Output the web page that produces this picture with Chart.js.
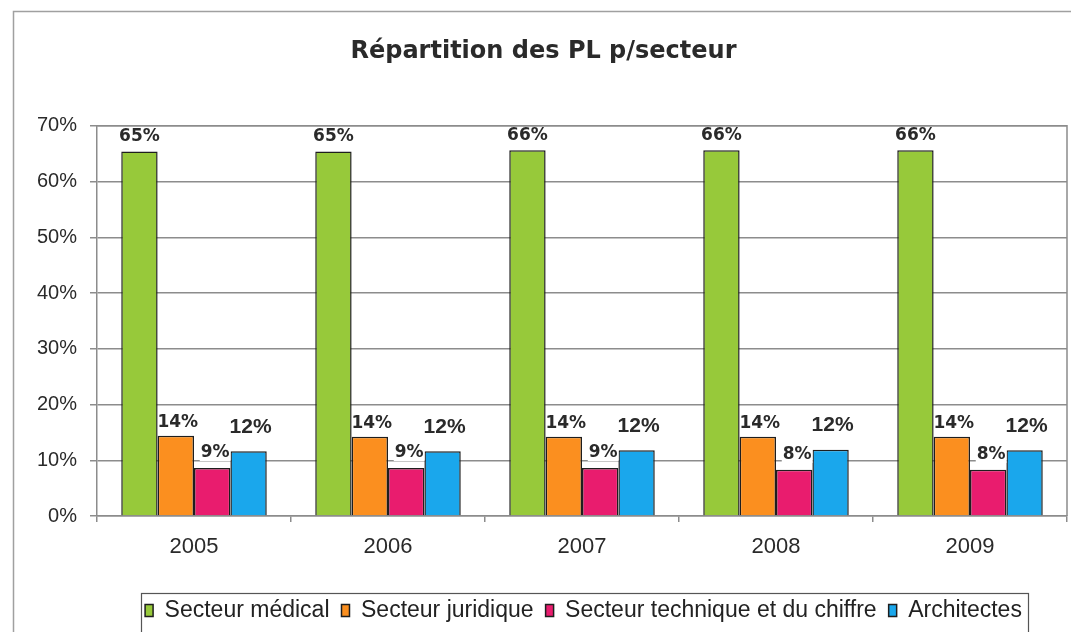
<!DOCTYPE html>
<html><head><meta charset="utf-8">
<script src="https://cdn.jsdelivr.net/npm/chart.js@4.4.0/dist/chart.umd.min.js"></script>
<style>html,body{margin:0;padding:0;background:#fff}#wrap{width:1071px;height:632px}</style>
</head><body><div id="wrap"><canvas id="c" width="1071" height="632"></canvas></div>
<script>
const categories = ['2005', '2006', '2007', '2008', '2009'];
const seriesNames = ['Secteur médical', 'Secteur juridique', 'Secteur technique et du chiffre', 'Architectes'];
const medical   = [65.4, 65.4, 65.6, 65.6, 65.6];
const juridique = [14.4, 14.2, 14.2, 14.2, 14.2];
const technique = [8.6, 8.6, 8.6, 8.3, 8.3];
const architectes = [11.6, 11.6, 11.8, 11.9, 11.8];
const yTickValues = [0, 10, 20, 30, 40, 50, 60, 70];
const titleText = 'Répartition des PL p/secteur';

const colors = ['#97c93a', '#fb8f1f', '#e91c6e', '#1aa7ec'];
const seriesValues = [medical, juridique, technique, architectes];

const labelStyles = [
  {font: 'bold 17px "DejaVu Sans"', dy: -15, dx: 0, bg: false},
  {font: 'bold 17px "DejaVu Sans"', dy: -13, dx: 2, bg: false},
  {font: 'bold 17px "DejaVu Sans"', dy: -15, dx: 3, bg: true},
  {font: 'bold 21px "Liberation Sans"', dy: -24, dx: 2, bg: false}
];

const LEGEND_SHIFT = 40;

const framePlugin = {
  id: 'frame',
  afterLayout(chart) {
    const lg = chart.legend;
    if (lg) { lg.left += LEGEND_SHIFT; lg.right += LEGEND_SHIFT; }
  },
  beforeDraw(chart) {
    const c = chart.ctx;
    c.save();
    c.fillStyle = '#fff';
    c.fillRect(0, 0, chart.width, chart.height);
    c.strokeStyle = '#a0a0a0';
    c.lineWidth = 1.5;
    c.beginPath();
    c.moveTo(13.5, chart.height);
    c.lineTo(13.5, 11.5);
    c.lineTo(chart.width, 11.5);
    c.stroke();
    c.restore();
  },
  afterDraw(chart) {
    const c = chart.ctx;
    const a = chart.chartArea;
    c.save();
    c.strokeStyle = '#8c8c8c';
    c.lineWidth = 1.5;
    c.beginPath();
    c.moveTo(a.left, a.top);
    c.lineTo(a.right, a.top);
    c.lineTo(a.right, a.bottom);
    c.stroke();
    // legend border
    const hb = chart.legend.legendHitBoxes;
    if (hb && hb.length) {
      let l = Infinity, r = -Infinity, t = Infinity, b = -Infinity;
      hb.forEach(h => { l = Math.min(l, h.left); r = Math.max(r, h.left + h.width); t = Math.min(t, h.top); b = Math.max(b, h.top + h.height); });
      const cy = (t + b) / 2;
      c.strokeStyle = '#555';
      c.lineWidth = 1.2;
      c.strokeRect(Math.round(l - 4) + 0.5, Math.round(cy - 18) + 0.5, Math.round(r - l + 10), 40);
    }
    c.restore();
  }
};

const labelPlugin = {
  id: 'barLabels',
  afterDatasetsDraw(chart) {
    const c = chart.ctx;
    c.save();
    c.textAlign = 'center';
    c.textBaseline = 'middle';
    chart.data.datasets.forEach((ds, i) => {
      const meta = chart.getDatasetMeta(i);
      const st = labelStyles[i];
      meta.data.forEach((bar, j) => {
        const txt = Math.round(ds.data[j]) + '%';
        c.font = st.font;
        const x = bar.x + st.dx, y = bar.y + st.dy;
        if (st.bg) {
          const w = c.measureText(txt).width;
          c.fillStyle = '#fff';
          c.fillRect(x - w / 2 - 1, y - 9, w + 2, 17);
        }
        c.fillStyle = '#2a2a2a';
        c.fillText(txt, x, y);
      });
    });
    c.restore();
  }
};

new Chart(document.getElementById('c'), {
  type: 'bar',
  data: {
    labels: categories,
    datasets: seriesNames.map((n, i) => ({
      label: n,
      data: seriesValues[i],
      backgroundColor: colors[i],
      borderColor: '#1e1e1e',
      borderWidth: 1.5,
      categoryPercentage: 0.75,
      barPercentage: 1.0
    }))
  },
  options: {
    responsive: false,
    animation: false,
    layout: {padding: {left: 20, right: 4, top: 20, bottom: 0}},
    plugins: {
      title: {
        display: true, text: titleText, color: '#2a2a2a',
        font: {family: '"DejaVu Sans"', size: 24, weight: 'bold'},
        padding: {top: 17, bottom: 60}
      },
      legend: {
        display: true, position: 'bottom',
        labels: {
          color: '#222', boxWidth: 8, boxHeight: 12, padding: 12,
          font: {family: '"Liberation Sans"', size: 23}
        }
      },
      tooltip: {enabled: false}
    },
    scales: {
      x: {
        afterFit(axis) { axis.height = 71; },
        grid: {offset: true, drawOnChartArea: false, drawTicks: true, tickLength: 6, color: '#8c8c8c', lineWidth: 1.5},
        border: {color: '#8c8c8c', width: 1.5},
        ticks: {color: '#2a2a2a', padding: 12, font: {family: '"Liberation Sans"', size: 22}}
      },
      y: {
        min: 0, max: 70,
        afterBuildTicks(axis) { axis.ticks = yTickValues.map(v => ({value: v})); },
        afterFit(axis) { axis.width = 77; },
        grid: {color: '#8c8c8c', lineWidth: 1.5, tickLength: 7},
        border: {color: '#8c8c8c', width: 1.5},
        ticks: {color: '#2a2a2a', padding: 13, font: {family: '"Liberation Sans"', size: 20},
          callback: v => v + '%'}
      }
    }
  },
  plugins: [framePlugin, labelPlugin]
});
</script></body></html>
